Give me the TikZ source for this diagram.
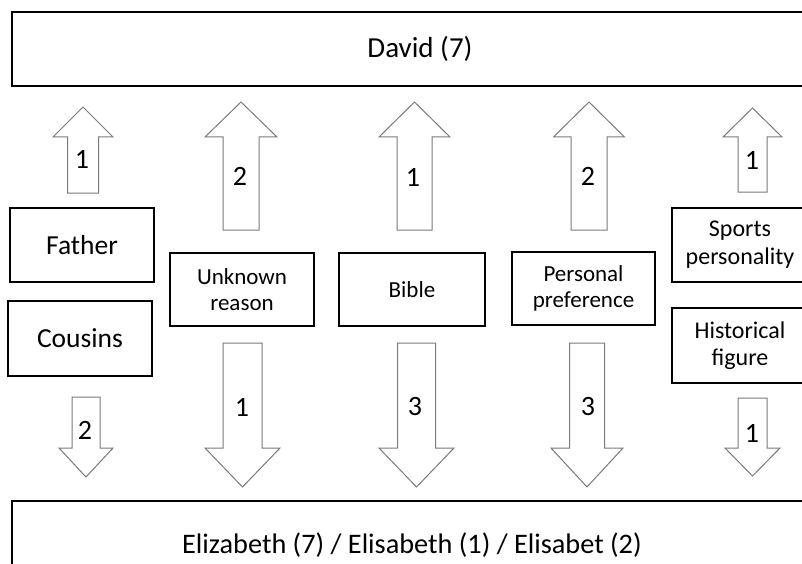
\documentclass[tikz,border=0pt]{standalone}
\usepackage{fontspec}
\setmainfont{Carlito}
\definecolor{arrgray}{HTML}{7A7A7A}
\newcommand\blockarrow[6]{% cx, tip, base, end, shaft half, head half
  \draw[arr] (#1,#2) -- (#1+#6,#3) -- (#1+#5,#3) -- (#1+#5,#4) -- (#1-#5,#4) -- (#1-#5,#3) -- (#1-#6,#3) -- cycle;}
\begin{document}
\begin{tikzpicture}[x=1pt,y=-1pt,
  box/.style={draw=black,line width=1.3pt,rectangle,inner sep=0pt,align=center},
  arr/.style={draw=arrgray,line width=1pt,fill=white,line join=miter},
  num/.style={font=\fontsize{28}{32}\selectfont,inner sep=0pt}]
\useasboundingbox (0,0) rectangle (802,564);
\clip (0,0) rectangle (802,564);
\fill[white] (0,0) rectangle (802,564);
% main boxes
\node[box,minimum width=816pt,minimum height=74pt,font=\fontsize{29}{33}\selectfont] (david) at (420,49) {David (7)};
\node[box,minimum width=800pt,minimum height=88pt,font=\fontsize{28.3}{32}\selectfont] (eliz) at (412,545) {Elizabeth (7) / Elisabeth (1) / Elisabet (2)};
% reason boxes
\node[box,minimum width=144pt,minimum height=74pt,font=\fontsize{27.5}{31}\selectfont] (father) at (82,245) {Father};
\node[box,minimum width=144pt,minimum height=75pt,font=\fontsize{27.5}{31}\selectfont] (cousins) at (80,338.5) {Cousins};
\node[box,minimum width=144pt,minimum height=73pt,font=\fontsize{23}{26.5}\selectfont] (unknown) at (242,289.5) {Unknown\\reason};
\node[box,minimum width=146pt,minimum height=73pt,font=\fontsize{23}{26.5}\selectfont] (bible) at (412,289.5) {Bible};
\node[box,minimum width=143pt,minimum height=73pt,font=\fontsize{23}{26.5}\selectfont] (personal) at (583.5,288.5) {Personal\\preference};
\node[box,minimum width=136pt,minimum height=74pt,font=\fontsize{24}{28}\selectfont] (sports) at (740,245) {Sports\\personality};
\node[box,minimum width=136pt,minimum height=75pt,font=\fontsize{24}{27}\selectfont] (historical) at (740,345.5) {Historical\\figure};
% block arrows
\blockarrow{83}{107}{137}{193}{15.5}{30}
\blockarrow{86}{477}{448}{397}{14}{27}
\blockarrow{241}{102}{137}{230}{18}{36}
\blockarrow{242.5}{487}{448}{343}{19.5}{37.5}
\blockarrow{414.5}{102}{137}{230}{17.5}{35.5}
\blockarrow{416.5}{487}{448}{343}{19}{37.5}
\blockarrow{589}{102}{137}{230}{18}{35.5}
\blockarrow{587}{487}{448}{343}{17.5}{36}
\blockarrow{752.5}{108}{137}{192}{14.5}{29.5}
\blockarrow{752.5}{476}{448}{398}{14.5}{27.5}
% counts
\node[num] (n1) at (82,159) {1};
\node[num] (n2) at (85,430) {2};
\node[num] (n3) at (240,176) {2};
\node[num] (n4) at (242,407) {1};
\node[num] (n5) at (413,177) {1};
\node[num] (n6) at (415,407) {3};
\node[num] (n7) at (588,176) {2};
\node[num] (n8) at (588,407) {3};
\node[num] (n9) at (752,160) {1};
\node[num] (n10) at (752,433) {1};
\end{tikzpicture}
\end{document}
